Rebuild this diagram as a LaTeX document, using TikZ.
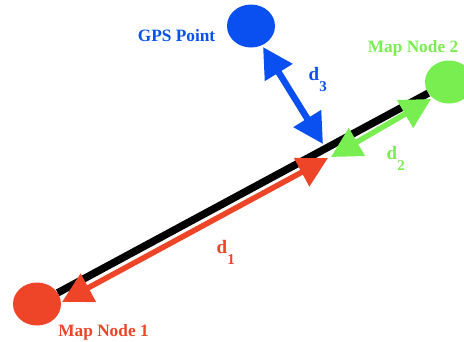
\documentclass[tikz,border=0pt]{standalone}
\usepackage{fontspec}
\setmainfont{Liberation Serif}
\usetikzlibrary{arrows.meta,shapes.geometric}
\definecolor{cblue}{RGB}{10,80,240}
\definecolor{cred}{RGB}{238,68,40}
\definecolor{cgreen}{RGB}{120,238,80}
\newcommand\dsub[1]{\raisebox{-11pt}{\fontsize{15}{15}\selectfont #1}}
\tikzset{
  dot/.style={ellipse, minimum width=48pt, minimum height=43pt, inner sep=0pt, fill=#1, draw=none},
  lbl/.style={font=\fontsize{17.3}{20}\selectfont\bfseries, text=#1, anchor=base, inner sep=0pt},
  dist/.style={draw=#1, line width=5.5pt, {Triangle[length=30pt,width=31pt]}-{Triangle[length=30pt,width=31pt]}},
  dlbl/.style={font=\fontsize{19}{20}\selectfont\bfseries, text=#1, anchor=base west, inner sep=0pt},
  road/.style={draw=black, line width=7.5pt}
}
\begin{document}
\begin{tikzpicture}[x=1pt,y=-1pt]
  \clip (0,0) rectangle (464,341);
  \node[dot=cred] (n1) at (37,304) {};
  \node[dot=cgreen] (n2) at (449,82) {};
  \node[dot=cblue] (gps) at (251,26) {};
  \draw[road] (n1) -- (n2);
  \coordinate (r1) at (62,302);
  \coordinate (r2) at (328,158);
  \coordinate (g1) at (331,157);
  \coordinate (g2) at (431,99);
  \coordinate (b1) at (263,47);
  \coordinate (b2) at (323,144);
  \draw[dist=cred] (r1) -- (r2);
  \draw[dist=cgreen] (g1) -- (g2);
  \draw[dist=cblue, line width=6.5pt] (b1) -- (b2);
  \node[lbl=cblue] (tg) at (176.5,41) {GPS Point};
  \node[lbl=cgreen] (t2) at (413,52) {Map Node 2};
  \node[lbl=cred] (t1) at (103.5,336) {Map Node 1};
  \node[dlbl=cblue] (d3) at (308.5,80) {d\dsub{3}};
  \node[dlbl=cgreen] (d2) at (386.5,159) {d\dsub{2}};
  \node[dlbl=cred] (d1) at (216.5,253) {d\dsub{1}};
\end{tikzpicture}
\end{document}
